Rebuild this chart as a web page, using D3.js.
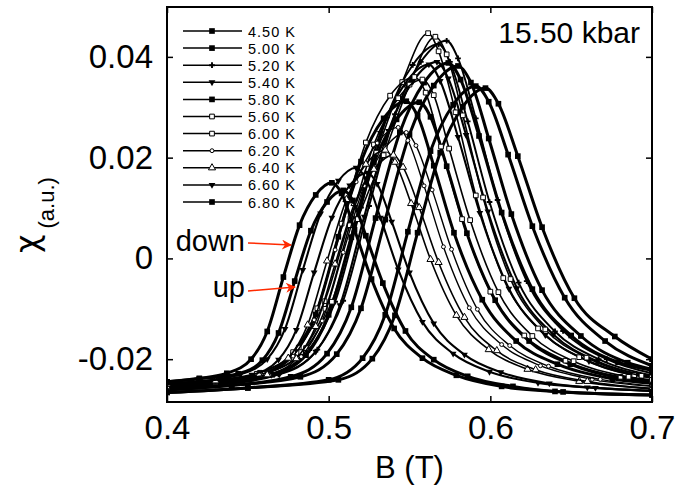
<!DOCTYPE html>
<html>
<head>
<meta charset="utf-8">
<script src="https://cdn.jsdelivr.net/npm/d3@7"></script>
<style>
  body { margin: 0; background: #fff; }
  text { font-family: "Liberation Sans", Arial, sans-serif; fill: #000; }
</style>
</head>
<body>
<svg id="chart" width="679" height="485"></svg>
<script>
'use strict';

// ---- data: [B (T), chi (a.u.)], one list per sweep ----
const down450 = [[0.40,-0.0266],[0.45,-0.0257],[0.500,-0.0241],[0.521,-0.0198],[0.535,-0.0112],[0.549,0.0053],[0.563,0.0213],[0.577,0.0305],[0.591,0.0342],[0.599,0.0311],[0.611,0.0206],[0.626,0.0064],[0.646,-0.0078],[0.671,-0.0164],[0.70,-0.0213]];
const up450 = [[0.40,-0.0266],[0.45,-0.0257],[0.506,-0.0241],[0.527,-0.0199],[0.541,-0.0113],[0.555,0.0051],[0.569,0.0210],[0.583,0.0301],[0.597,0.0338],[0.605,0.0307],[0.617,0.0203],[0.632,0.0062],[0.652,-0.0079],[0.677,-0.0155],[0.70,-0.0200]];
const down500 = [[0.40,-0.0261],[0.44,-0.0252],[0.4765,-0.0235],[0.499,-0.0189],[0.514,-0.0097],[0.529,0.0080],[0.544,0.0250],[0.559,0.0349],[0.574,0.0388],[0.5816,0.0355],[0.593,0.0243],[0.607,0.0091],[0.626,-0.0061],[0.650,-0.0153],[0.679,-0.0206],[0.70,-0.0222]];
const up500 = [[0.40,-0.0261],[0.44,-0.0252],[0.4825,-0.0235],[0.505,-0.0190],[0.520,-0.0099],[0.535,0.0077],[0.550,0.0246],[0.565,0.0343],[0.580,0.0382],[0.588,0.0349],[0.599,0.0238],[0.613,0.0088],[0.632,-0.0063],[0.656,-0.0154],[0.685,-0.0207],[0.70,-0.0220]];
const down520 = [[0.40,-0.0258],[0.43,-0.0250],[0.464,-0.0230],[0.488,-0.0182],[0.504,-0.0086],[0.520,0.0101],[0.536,0.0280],[0.552,0.0384],[0.568,0.0425],[0.575,0.0390],[0.586,0.0272],[0.5995,0.0112],[0.6175,-0.0048],[0.640,-0.0145],[0.667,-0.0200],[0.70,-0.0232]];
const up520 = [[0.40,-0.0258],[0.43,-0.0252],[0.469,-0.0230],[0.493,-0.0181],[0.509,-0.0084],[0.525,0.0104],[0.541,0.0286],[0.557,0.0390],[0.573,0.0432],[0.580,0.0397],[0.591,0.0278],[0.6045,0.0116],[0.6225,-0.0045],[0.645,-0.0144],[0.672,-0.0200],[0.70,-0.0228]];
const down540 = [[0.40,-0.0257],[0.43,-0.0249],[0.4645,-0.0231],[0.487,-0.0185],[0.502,-0.0095],[0.517,0.0080],[0.532,0.0249],[0.547,0.0346],[0.562,0.0385],[0.569,0.0352],[0.580,0.0241],[0.5935,0.0090],[0.6115,-0.0060],[0.634,-0.0152],[0.661,-0.0204],[0.70,-0.0237]];
const up540 = [[0.40,-0.0257],[0.43,-0.0249],[0.4695,-0.0230],[0.492,-0.0185],[0.507,-0.0093],[0.522,0.0083],[0.537,0.0253],[0.552,0.0351],[0.567,0.0390],[0.574,0.0357],[0.585,0.0245],[0.5985,0.0093],[0.6165,-0.0059],[0.639,-0.0151],[0.666,-0.0204],[0.70,-0.0234]];
const down560 = [[0.40,-0.0255],[0.43,-0.0246],[0.4575,-0.0227],[0.4815,-0.0177],[0.4975,-0.0085],[0.5135,0.0080],[0.5295,0.0210],[0.5455,0.0350],[0.5615,0.0447],[0.568,0.0411],[0.5785,0.0290],[0.591,0.0125],[0.608,-0.0039],[0.6295,-0.0139],[0.655,-0.0196],[0.689,-0.0232],[0.70,-0.0236]];
const up560 = [[0.40,-0.0255],[0.43,-0.0246],[0.462,-0.0227],[0.486,-0.0178],[0.502,-0.0086],[0.518,0.0078],[0.534,0.0205],[0.550,0.0345],[0.566,0.0440],[0.573,0.0405],[0.583,0.0284],[0.5955,0.0121],[0.6125,-0.0041],[0.634,-0.0141],[0.6595,-0.0197],[0.6935,-0.0233],[0.70,-0.0236]];
const down580 = [[0.40,-0.0254],[0.43,-0.0246],[0.457,-0.0231],[0.478,-0.0191],[0.492,-0.0111],[0.506,0.0043],[0.520,0.0192],[0.534,0.0278],[0.548,0.0312],[0.555,0.0283],[0.565,0.0184],[0.5775,0.0051],[0.595,-0.0082],[0.616,-0.0164],[0.6415,-0.0210],[0.6755,-0.0239],[0.70,-0.0248]];
const up580 = [[0.40,-0.0254],[0.43,-0.0247],[0.465,-0.0231],[0.486,-0.0192],[0.500,-0.0112],[0.514,0.0042],[0.528,0.0190],[0.542,0.0276],[0.556,0.0310],[0.563,0.0281],[0.573,0.0183],[0.5855,0.0050],[0.603,-0.0083],[0.624,-0.0164],[0.6495,-0.0210],[0.6835,-0.0239],[0.70,-0.0245]];
const down600 = [[0.40,-0.0254],[0.43,-0.0245],[0.4555,-0.0229],[0.478,-0.0186],[0.493,-0.0099],[0.508,0.0069],[0.523,0.0230],[0.538,0.0323],[0.553,0.0360],[0.560,0.0329],[0.5695,0.0222],[0.5825,0.0078],[0.600,-0.0066],[0.621,-0.0153],[0.6465,-0.0203],[0.6805,-0.0235],[0.70,-0.0242]];
const up600 = [[0.40,-0.0254],[0.43,-0.0245],[0.4605,-0.0229],[0.483,-0.0186],[0.498,-0.0100],[0.513,0.0066],[0.528,0.0226],[0.543,0.0318],[0.558,0.0355],[0.565,0.0324],[0.5745,0.0218],[0.5875,0.0076],[0.605,-0.0067],[0.626,-0.0154],[0.6515,-0.0204],[0.6855,-0.0235],[0.70,-0.0241]];
const down620 = [[0.40,-0.0251],[0.43,-0.0244],[0.4585,-0.0230],[0.478,-0.0194],[0.491,-0.0122],[0.504,0.0017],[0.517,0.0152],[0.530,0.0229],[0.543,0.0260],[0.549,0.0234],[0.559,0.0144],[0.571,0.0023],[0.587,-0.0098],[0.607,-0.0171],[0.631,-0.0213],[0.663,-0.0240],[0.70,-0.0254]];
const up620 = [[0.40,-0.0251],[0.43,-0.0244],[0.4635,-0.0231],[0.483,-0.0195],[0.496,-0.0124],[0.509,0.0012],[0.522,0.0144],[0.535,0.0220],[0.548,0.0250],[0.554,0.0224],[0.564,0.0136],[0.576,0.0018],[0.592,-0.0101],[0.612,-0.0173],[0.636,-0.0214],[0.668,-0.0240],[0.70,-0.0253]];
const down640 = [[0.40,-0.0249],[0.43,-0.0243],[0.457,-0.0231],[0.475,-0.0198],[0.487,-0.0132],[0.499,-0.0005],[0.511,0.0117],[0.523,0.0187],[0.535,0.0215],[0.541,0.0191],[0.551,0.0109],[0.563,-0.0002],[0.579,-0.0113],[0.599,-0.0181],[0.623,-0.0220],[0.655,-0.0244],[0.70,-0.0258]];
const up640 = [[0.40,-0.0249],[0.43,-0.0243],[0.462,-0.0231],[0.480,-0.0199],[0.492,-0.0135],[0.504,-0.0011],[0.516,0.0109],[0.528,0.0177],[0.540,0.0205],[0.546,0.0181],[0.556,0.0101],[0.568,-0.0008],[0.584,-0.0117],[0.604,-0.0183],[0.628,-0.0221],[0.660,-0.0244],[0.70,-0.0259]];
const down660 = [[0.40,-0.0248],[0.42,-0.0244],[0.4455,-0.0230],[0.462,-0.0200],[0.473,-0.0140],[0.484,-0.0023],[0.495,0.0089],[0.506,0.0154],[0.517,0.0180],[0.523,0.0158],[0.532,0.0081],[0.543,-0.0022],[0.558,-0.0126],[0.577,-0.0189],[0.5995,-0.0225],[0.6295,-0.0247],[0.66,-0.0256],[0.70,-0.0263]];
const up660 = [[0.40,-0.0248],[0.42,-0.0244],[0.4525,-0.0231],[0.469,-0.0201],[0.480,-0.0142],[0.491,-0.0028],[0.502,0.0081],[0.513,0.0145],[0.524,0.0170],[0.530,0.0148],[0.539,0.0073],[0.550,-0.0028],[0.565,-0.0129],[0.584,-0.0191],[0.6065,-0.0226],[0.6365,-0.0248],[0.665,-0.0257],[0.70,-0.0263]];
const down680 = [[0.40,-0.0245],[0.42,-0.0238],[0.437,-0.0228],[0.452,-0.0200],[0.462,-0.0145],[0.472,-0.0037],[0.482,0.0066],[0.492,0.0126],[0.502,0.0150],[0.508,0.0129],[0.516,0.0057],[0.5265,-0.0041],[0.5405,-0.0139],[0.558,-0.0198],[0.579,-0.0232],[0.607,-0.0254],[0.64,-0.0264],[0.70,-0.0271]];
const up680 = [[0.40,-0.0245],[0.42,-0.0239],[0.444,-0.0229],[0.459,-0.0202],[0.469,-0.0148],[0.479,-0.0045],[0.489,0.0055],[0.499,0.0112],[0.509,0.0135],[0.515,0.0115],[0.523,0.0045],[0.5335,-0.0049],[0.5475,-0.0144],[0.565,-0.0201],[0.586,-0.0234],[0.614,-0.0254],[0.645,-0.0265],[0.70,-0.0271]];

// legend order as in the figure
const temps = ["4.50 K", "5.00 K", "5.20 K", "5.40 K", "5.80 K", "5.60 K", "6.00 K", "6.20 K", "6.40 K", "6.60 K", "6.80 K"];
const downSweeps = [down450, down500, down520, down540, down580, down560, down600, down620, down640, down660, down680];
const upSweeps = [up450, up500, up520, up540, up580, up560, up600, up620, up640, up660, up680];

const xTicks = [0.4, 0.5, 0.6, 0.7];
const yTicks = [-0.02, 0, 0.02, 0.04];

// ---- styles ----
const markerKinds = ["sq", "sq", "plus", "tri", "sq", "osq", "osq", "ocirc", "otri", "tri", "sq"];
const MARKERS = {
    sq:    { type: d3.symbolSquare,   size: 32, fill: "#000", stroke: "none", width: 3 },
    plus:  { type: d3.symbolCross,    size: 18, fill: "#000", stroke: "none", width: 1.9 },
    tri:   { type: d3.symbolTriangle, size: 20, fill: "#000", stroke: "none", width: 2.1, rot: 180 },
    osq:   { type: d3.symbolSquare,   size: 22, fill: "#fff", stroke: "#000", width: 1.6 },
    ocirc: { type: d3.symbolCircle,   size: 12, fill: "#fff", stroke: "#000", width: 1.4 },
    otri:  { type: d3.symbolTriangle, size: 22, fill: "#fff", stroke: "#000", width: 1.6 }
};

const plot = { left: 167, right: 652, top: 7, bottom: 402 };

const svg = d3.select("#chart");

const x = d3.scaleLinear().domain([0.4, 0.7]).range([plot.left, plot.right]);
const y = d3.scaleLinear().domain([-0.0285, 0.0499]).range([plot.bottom, plot.top]);

const defs = svg.append("defs");
defs.append("clipPath")
    .attr("id", "plot-clip")
    .append("rect")
    .attr("x", plot.left)
    .attr("y", plot.top)
    .attr("width", plot.right - plot.left)
    .attr("height", plot.bottom - plot.top);

// ---- curves ----
const line = d3.line()
    .x(d => x(d[0]))
    .y(d => y(d[1]))
    .curve(d3.curveMonotoneX);

const curves = svg.append("g").attr("clip-path", "url(#plot-clip)");

function markerPath(kind) {
    const m = MARKERS[kind];
    return d3.symbol().type(m.type).size(m.size)();
}

temps.forEach((t, i) => {
    const m = MARKERS[markerKinds[i]];
    [downSweeps[i], upSweeps[i]].forEach(pts => {
        const g = curves.append("g").classed("sweep", true);
        g.append("path")
            .datum(pts)
            .attr("fill", "none")
            .attr("stroke", "#000")
            .attr("stroke-width", m.width)
            .attr("d", line);
        g.selectAll("path.mk")
            .data(pts)
            .join("path")
            .classed("mk", true)
            .attr("d", markerPath(markerKinds[i]))
            .attr("transform", d => `translate(${x(d[0])},${y(d[1])})` + (m.rot ? ` rotate(${m.rot})` : ""))
            .attr("fill", m.fill)
            .attr("stroke", m.stroke)
            .attr("stroke-width", 1);
    });
});

// ---- axes (inward ticks on all four sides) ----
const fmtY = v => v === 0 ? "0" : v.toFixed(2);

svg.append("g")
    .attr("transform", `translate(0,${plot.bottom})`)
    .call(d3.axisBottom(x).tickValues(xTicks).tickSize(-6).tickPadding(14).tickFormat(d3.format(".1f")));
svg.append("g")
    .attr("transform", `translate(0,${plot.top})`)
    .call(d3.axisTop(x).tickValues(xTicks).tickSize(-6).tickFormat(""));
svg.append("g")
    .attr("transform", `translate(${plot.left},0)`)
    .call(d3.axisLeft(y).tickValues(yTicks).tickSize(-6).tickPadding(14).tickFormat(fmtY));
svg.append("g")
    .attr("transform", `translate(${plot.right},0)`)
    .call(d3.axisRight(y).tickValues(yTicks).tickSize(-6).tickFormat(""));

svg.selectAll(".domain").remove();
svg.selectAll(".tick line").attr("stroke", "#000").attr("stroke-width", 1.5);
svg.selectAll(".tick text").attr("font-size", 33).attr("fill", "#000")
    .attr("font-family", "Liberation Sans, Arial, sans-serif");

svg.append("rect")
    .attr("x", plot.left)
    .attr("y", plot.top)
    .attr("width", plot.right - plot.left)
    .attr("height", plot.bottom - plot.top)
    .attr("fill", "none")
    .attr("stroke", "#000")
    .attr("stroke-width", 2);

// ---- axis titles ----
svg.append("text")
    .attr("x", (plot.left + plot.right) / 2)
    .attr("y", 478)
    .attr("text-anchor", "middle")
    .attr("font-size", 31)
    .text("B (T)");

const yTitle = svg.append("text")
    .attr("transform", "translate(38,253) rotate(-90)")
    .attr("text-anchor", "start");
yTitle.append("tspan")
    .attr("font-size", 32)
    .attr("font-family", "DejaVu Sans, sans-serif")
    .text("\u03c7");
yTitle.append("tspan").attr("font-size", 22).attr("dx", 6).attr("dy", 16).text("(a.u.)");

// ---- pressure label ----
svg.append("text")
    .attr("x", 640)
    .attr("y", 43)
    .attr("text-anchor", "end")
    .attr("font-size", 30)
    .text("15.50 kbar");

// ---- legend ----
const legend = svg.append("g").attr("transform", "translate(183,31)");
temps.forEach((t, i) => {
    const m = MARKERS[markerKinds[i]];
    const row = legend.append("g").attr("transform", `translate(0,${i * 17.1})`);
    row.append("line")
        .attr("x1", 0).attr("x2", 59)
        .attr("stroke", "#000").attr("stroke-width", 1.5);
    row.append("path")
        .attr("d", markerPath(markerKinds[i]))
        .attr("transform", `translate(29,0)` + (m.rot ? ` rotate(${m.rot})` : ""))
        .attr("fill", m.fill)
        .attr("stroke", m.stroke)
        .attr("stroke-width", 1);
    row.append("text")
        .attr("x", 65)
        .attr("y", 5.5)
        .attr("font-size", 14.5)
        .attr("letter-spacing", 1)
        .text(t);
});

// ---- sweep direction annotations ----
const red = "#ff2a00";
defs.append("marker")
    .attr("id", "arrow")
    .attr("viewBox", "0 0 10 10")
    .attr("refX", 9).attr("refY", 5)
    .attr("markerWidth", 12).attr("markerHeight", 10)
    .attr("markerUnits", "userSpaceOnUse")
    .attr("orient", "auto")
    .append("path")
    .attr("d", "M0,0 L10,5 L0,10 L3,5 Z")
    .attr("fill", red);

const notes = [
    { label: "down", x: 245, y: 251, ax1: 248, ay1: 243, ax2: 291, ay2: 245 },
    { label: "up",   x: 245, y: 297, ax1: 248, ay1: 291, ax2: 295, ay2: 287 }
];
notes.forEach(n => {
    svg.append("text")
        .attr("x", n.x).attr("y", n.y)
        .attr("text-anchor", "end")
        .attr("font-size", 29)
        .text(n.label);
    svg.append("line")
        .attr("x1", n.ax1).attr("y1", n.ay1)
        .attr("x2", n.ax2).attr("y2", n.ay2)
        .attr("stroke", red).attr("stroke-width", 1.5)
        .attr("marker-end", "url(#arrow)");
});
</script>
</body>
</html>
